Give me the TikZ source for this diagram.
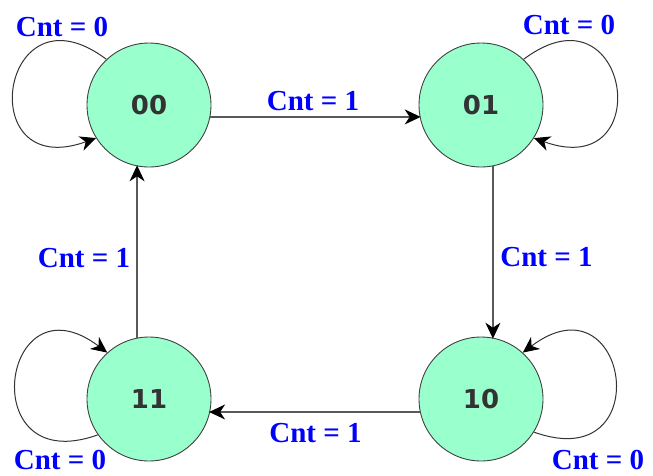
\documentclass[tikz,border=0pt]{standalone}
\usepackage{fontspec}
\setmainfont{Liberation Serif}
\newfontfamily\statefont{DejaVu Sans}
\usetikzlibrary{arrows.meta}
\definecolor{mint}{RGB}{153,255,204}
\definecolor{lblblue}{RGB}{0,0,255}
\tikzset{
  state/.style={circle, draw=black!75, line width=0.9pt, fill=mint, minimum size=124pt, inner sep=0pt,
    font=\statefont\bfseries\fontsize{26}{26}\selectfont, text=black!80},
  lbl/.style={inner sep=0pt, text=lblblue, font=\bfseries\fontsize{29}{29}\selectfont},
  trans/.style={draw=black!65, line width=1.4pt, -{Stealth[length=16pt,width=15pt,inset=5pt,black]}, shorten >=-1pt},
  selfloop/.style={draw=black!80, line width=1pt, -{Stealth[length=16pt,width=15pt,inset=5pt,black]}}
}
\begin{document}
\begin{tikzpicture}[x=1pt,y=-1pt]
\useasboundingbox (0,0) rectangle (653,475);
\node[state] (s00) at (149,105) {00};
\node[state] (s01) at (481,105) {01};
\node[state] (s11) at (149,399) {11};
\node[state] (s10) at (481,399) {10};
% transitions
\draw[trans] (s00.-11) -- (s01.191);
\draw[trans] (s01.281) -- (s10.79);
\draw[trans] (s10.192) -- (s11.-12);
\draw[trans] (s11.101) -- (s00.259);
% self loops
\draw[selfloop] (s00.133) .. controls +(-106,-80) and +(-125,45) .. (s00.212);
\draw[selfloop] (s01.47) .. controls +(106,-80) and +(125,45) .. (s01.328);
\draw[selfloop] (s11.215) .. controls +(-125,45) and +(-106,-80) .. (s11.132);
\draw[selfloop] (s10.328) .. controls +(125,45) and +(106,-80) .. (s10.48);
% labels
\node[lbl] (l00) at (62,26.5) {Cnt = 0};
\node[lbl] (l01) at (569,24.5) {Cnt = 0};
\node[lbl] (l11) at (60,459.5) {Cnt = 0};
\node[lbl] (l10) at (598,459.5) {Cnt = 0};
\node[lbl] (ltop) at (313,101) {Cnt = 1};
\node[lbl] (lright) at (546.5,257.5) {Cnt = 1};
\node[lbl] (lbottom) at (315.5,433) {Cnt = 1};
\node[lbl] (lleft) at (84,258.5) {Cnt = 1};
\end{tikzpicture}
\end{document}
